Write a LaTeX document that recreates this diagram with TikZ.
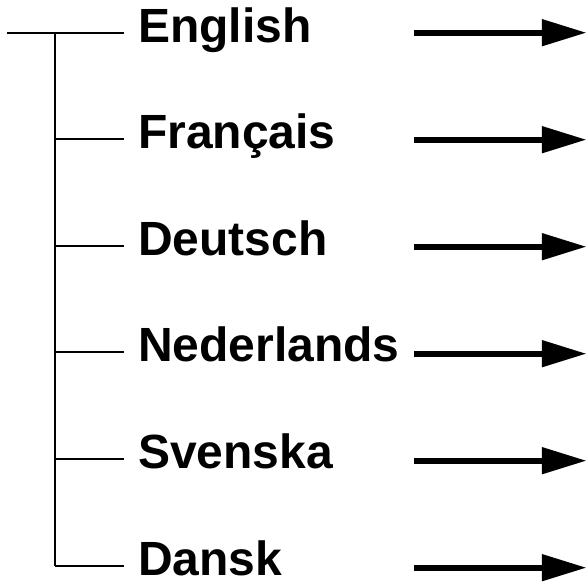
\documentclass[tikz,border=0pt]{standalone}
\usepackage{fontspec}
\setmainfont{Liberation Sans}
\usetikzlibrary{arrows.meta}
\begin{document}
\begin{tikzpicture}[x=1pt,y=-1pt,
  treeline/.style={line width=2pt},
  langlabel/.style={anchor=base west,inner sep=0pt,text depth=0pt,font=\fontsize{48}{50}\selectfont\bfseries},
  bigarrow/.style={line width=5.7pt,-{Triangle[length=44.6pt,width=25.7pt]}}]
\useasboundingbox (0,0) rectangle (587,585);
\foreach \n/\k/\t in {a/0/English,b/1/Fran\c{c}ais,c/2/Deutsch,d/3/Nederlands,e/4/Svenska,f/5/Dansk}{
  \pgfmathsetmacro{\ly}{32.7+\k*106.6}
  \pgfmathsetmacro{\ay}{32.7+\k*107}
  \coordinate (j\n) at (55,\ly);
  \coordinate (b\n) at (124,\ly);
  \node[langlabel] (l\n) at (138,\ly+9.5) {\t};
  \coordinate (s\n) at (414,\ay);
  \coordinate (t\n) at (586.5,\ay);
  \draw[bigarrow] (s\n) -- (t\n);
}
\coordinate (root) at (7,32.7);
\draw[treeline] (root) -- (ba);
\draw[treeline] (ja) -- (jf);
\foreach \n in {b,c,d,e,f}{\draw[treeline] (j\n) -- (b\n);}
\end{tikzpicture}
\end{document}
